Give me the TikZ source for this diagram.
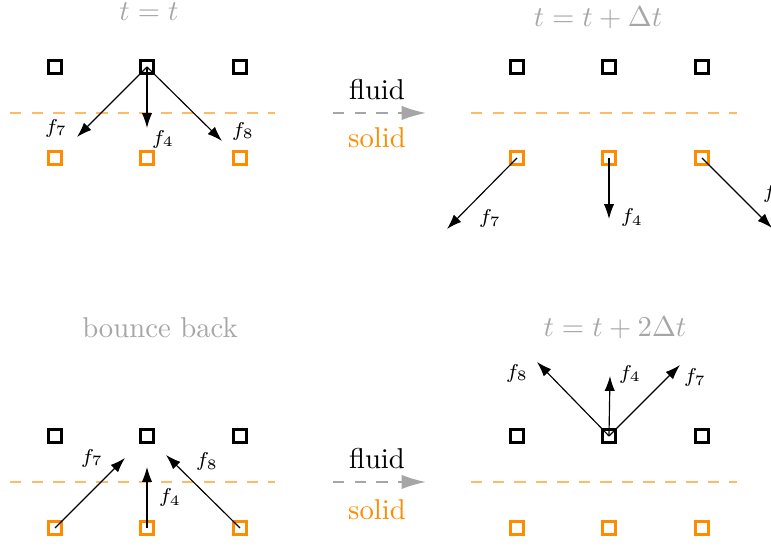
\documentclass[tikz,border=0pt]{standalone}
\usetikzlibrary{arrows.meta}
\definecolor{darkorange}{RGB}{255,140,0}
\begin{document}
\begin{tikzpicture}[x=0.3484pt,y=0.3484pt,
  fluidpt/.style={draw=black,line width=1.2pt,minimum size=4.7pt,inner sep=0pt},
  solidpt/.style={draw=darkorange,line width=1.2pt,minimum size=4.7pt,inner sep=0pt},
  wall/.style={darkorange!60,dash pattern=on 4pt off 3.5pt},
  flow/.style={-{Latex[length=5.2pt,width=3.6pt]}},
  stream/.style={gray!70,semithick,dash pattern=on 4pt off 3.5pt,-{Latex[length=8.5pt,width=5pt]}},
  lbl/.style={font=\scriptsize},
  ttl/.style={text=gray!70}]
  \useasboundingbox (0,0) rectangle (771,547);
  % t = t
  \node[ttl] (t0) at (149,535) {$t=t$};
  \node[fluidpt] (a1) at (55,480) {}; \node[fluidpt] (a2) at (147,480) {}; \node[fluidpt] (a3) at (240,480) {};
  \node[solidpt] (a4) at (55,389) {}; \node[solidpt] (a5) at (147,389) {}; \node[solidpt] (a6) at (240,389) {};
  \coordinate (aw1) at (10,434); \coordinate (aw2) at (275,434);
  \draw[wall] (aw1)--(aw2);
  \coordinate (a7) at (77,410); \coordinate (a8) at (147,419); \coordinate (a9) at (222,406);
  \draw[flow] (a2.center)--(a7); \draw[flow] (a2.center)--(a8); \draw[flow] (a2.center)--(a9);
  \node[lbl] (af7) at (56,419) {$f_7$}; \node[lbl] (af4) at (163,408) {$f_4$}; \node[lbl] (af8) at (243,416) {$f_8$};
  % t = t + dt
  \node[ttl] (t1) at (598,529) {$t=t+\Delta t$};
  \node[fluidpt] (b1) at (517,480) {}; \node[fluidpt] (b2) at (609,480) {}; \node[fluidpt] (b3) at (702,480) {};
  \node[solidpt] (b4) at (517,389) {}; \node[solidpt] (b5) at (609,389) {}; \node[solidpt] (b6) at (702,389) {};
  \coordinate (bw1) at (471,434); \coordinate (bw2) at (737,434);
  \draw[wall] (bw1)--(bw2);
  \coordinate (b7) at (447,318); \coordinate (b8) at (609,328); \coordinate (b9) at (772,319);
  \draw[flow] (b4.center)--(b7); \draw[flow] (b5.center)--(b8); \draw[flow] (b6.center)--(b9);
  \node[lbl] (bf7) at (490,328) {$f_7$}; \node[lbl] (bf4) at (632,329) {$f_4$}; \node[lbl] (bf8) at (774,354) {$f_8$};
  % streaming, top
  \coordinate (s1) at (333,434); \coordinate (s2) at (426,434);
  \draw[stream] (s1)--(s2);
  \node (fl1) at (377,457) {fluid}; \node[text=darkorange] (so1) at (377,409) {solid};
  % bounce back
  \node[ttl] (t2) at (160,219) {bounce back};
  \node[fluidpt] (c1) at (55,111) {}; \node[fluidpt] (c2) at (147,111) {}; \node[fluidpt] (c3) at (240,111) {};
  \node[solidpt] (c4) at (55,19) {}; \node[solidpt] (c5) at (147,19) {}; \node[solidpt] (c6) at (240,19) {};
  \coordinate (cw1) at (10,65); \coordinate (cw2) at (275,65);
  \draw[wall] (cw1)--(cw2);
  \coordinate (c7) at (125,89); \coordinate (c8) at (147,80); \coordinate (c9) at (166,92);
  \draw[flow] (c4.center)--(c7); \draw[flow] (c5.center)--(c8); \draw[flow] (c6.center)--(c9);
  \node[lbl] (cf7) at (92,89) {$f_7$}; \node[lbl] (cf4) at (170,49) {$f_4$}; \node[lbl] (cf8) at (207,85) {$f_8$};
  % t = t + 2dt
  \node[ttl] (t3) at (615,219) {$t=t+2\Delta t$};
  \node[fluidpt] (d1) at (517,111) {}; \node[fluidpt] (d2) at (609,111) {}; \node[fluidpt] (d3) at (702,111) {};
  \node[solidpt] (d4) at (517,19) {}; \node[solidpt] (d5) at (609,19) {}; \node[solidpt] (d6) at (702,19) {};
  \coordinate (dw1) at (471,65); \coordinate (dw2) at (737,65);
  \draw[wall] (dw1)--(dw2);
  \coordinate (d7) at (537,185); \coordinate (d8) at (610,171); \coordinate (d9) at (680,182);
  \draw[flow] (d2.center)--(d7); \draw[flow] (d2.center)--(d8); \draw[flow] (d2.center)--(d9);
  \node[lbl] (df8) at (517,174) {$f_8$}; \node[lbl] (df4) at (630,173) {$f_4$}; \node[lbl] (df7) at (695,169) {$f_7$};
  % streaming, bottom
  \coordinate (s3) at (333,65); \coordinate (s4) at (426,65);
  \draw[stream] (s3)--(s4);
  \node (fl2) at (377,88) {fluid}; \node[text=darkorange] (so2) at (377,37) {solid};
\end{tikzpicture}
\end{document}
